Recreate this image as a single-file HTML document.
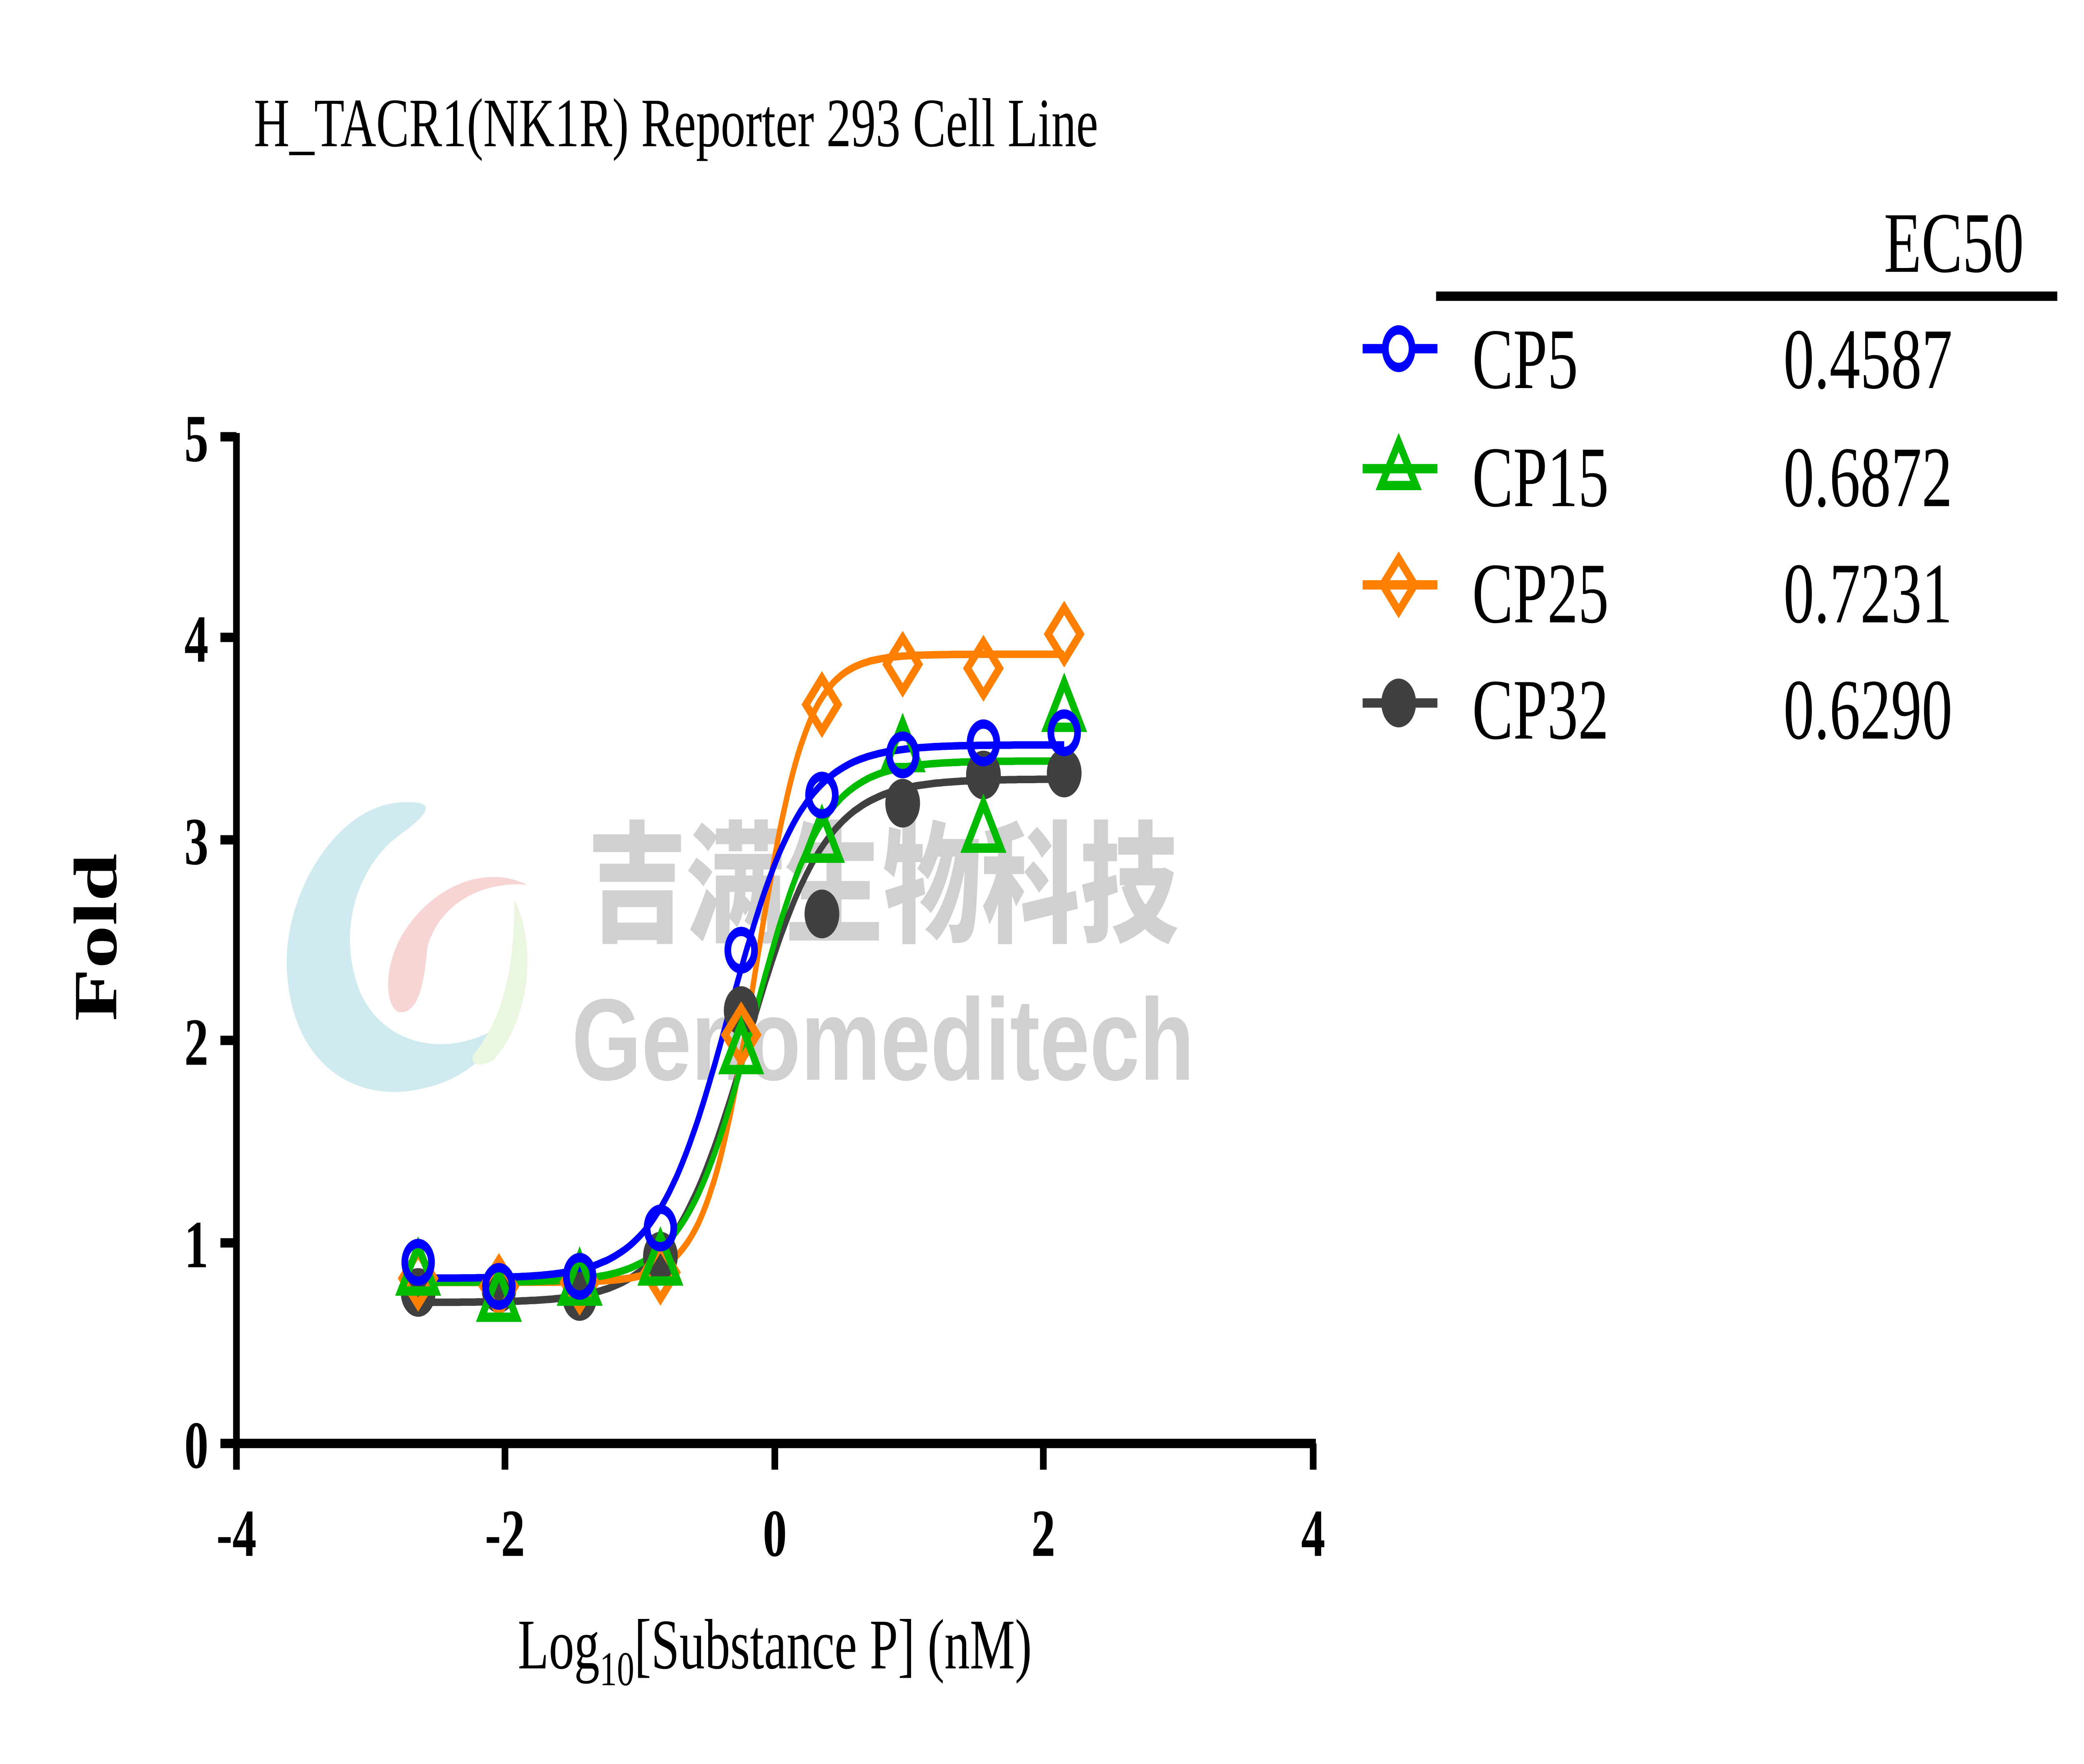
<!DOCTYPE html>
<html><head><meta charset="utf-8"><meta name="viewport" content="width=7014">
<style>
html,body{margin:0;padding:0;background:#fff;width:100%;height:100%;overflow:hidden;}
svg{display:block;position:fixed;left:0;top:0;width:100vw;height:100vh;}
text{font-family:"Liberation Serif","Noto Serif CJK SC",serif;}
</style></head><body>
<svg id="s" viewBox="0 0 1560 941" preserveAspectRatio="none" xmlns="http://www.w3.org/2000/svg">
<rect width="1560" height="941" fill="#fff"/>
<g opacity="0.55">
<path d="M300,428 C250,430 210,480 215,520 C220,570 270,590 320,580 C350,575 370,560 380,545 C340,565 290,560 270,530 C250,495 270,460 300,445 C325,432 325,427 300,428 Z" fill="#a9d8e6"/>
<path d="M395,472 C360,460 320,475 300,500 C285,520 290,540 300,540 C315,540 318,520 320,505 C330,480 365,470 395,472 Z" fill="#f3b3b3"/>
<path d="M385,480 C400,500 400,540 370,565 C360,570 350,568 355,562 C380,540 385,510 385,480 Z" fill="#d9efc7"/>
</g>
<g fill="#c8c8c8" opacity="0.85">
<text x="440" y="497" font-size="70" style="font-family:'Noto Sans CJK SC',sans-serif;font-weight:900" textLength="442" lengthAdjust="spacingAndGlyphs">吉满生物科技</text>
<text x="428" y="576" font-size="62" style="font-family:'Liberation Sans',sans-serif;font-weight:bold" textLength="466" lengthAdjust="spacingAndGlyphs">Genomeditech</text>
</g>
<text x="190" y="78" font-size="37">H_TACR1(NK1R) Reporter 293 Cell Line</text>
<g stroke="#000" stroke-width="5" fill="none">
<line x1="177" y1="231" x2="177" y2="772"/>
<line x1="175" y1="770" x2="985" y2="770"/>
<line x1="165" y1="233" x2="177" y2="233"/>
<line x1="165" y1="340" x2="177" y2="340"/>
<line x1="165" y1="448" x2="177" y2="448"/>
<line x1="165" y1="555" x2="177" y2="555"/>
<line x1="165" y1="663" x2="177" y2="663"/>
<line x1="165" y1="770" x2="177" y2="770"/>
<line x1="177" y1="770" x2="177" y2="784"/>
<line x1="378" y1="770" x2="378" y2="784"/>
<line x1="580" y1="770" x2="580" y2="784"/>
<line x1="781" y1="770" x2="781" y2="784"/>
<line x1="983" y1="770" x2="983" y2="784"/>
</g>
<g font-size="36" font-weight="bold" text-anchor="end">
<text x="156" y="246">5</text><text x="156" y="353">4</text><text x="156" y="461">3</text>
<text x="156" y="568">2</text><text x="156" y="676">1</text><text x="156" y="783">0</text>
</g>
<g font-size="36" font-weight="bold" text-anchor="middle">
<text x="177" y="830">-4</text><text x="378" y="830">-2</text><text x="580" y="830">0</text>
<text x="781" y="830">2</text><text x="983" y="830">4</text>
</g>
<text transform="translate(87,500) rotate(-90)" font-size="46" font-weight="bold" text-anchor="middle">Fold</text>
<text x="580" y="890" font-size="38" text-anchor="middle">Log<tspan font-size="26" dy="9">10</tspan><tspan dy="-9">[Substance P] (nM)</tspan></text>
<g id="curves"></g>
<g id="marks"></g>
<text x="1515" y="145" font-size="46" text-anchor="end">EC50</text>
<line x1="1075" y1="158" x2="1540" y2="158" stroke="#000" stroke-width="5"/>
<g font-size="46">
<text x="1102" y="207">CP5</text><text x="1335" y="207">0.4587</text>
<text x="1102" y="270">CP15</text><text x="1335" y="270">0.6872</text>
<text x="1102" y="332">CP25</text><text x="1335" y="332">0.7231</text>
<text x="1102" y="394">CP32</text><text x="1335" y="394">0.6290</text>
</g>
<g stroke-width="5">
<line x1="1020" y1="186" x2="1076" y2="186" stroke="#0000ff"/>
<circle cx="1047" cy="186" r="10" fill="#fff" stroke="#0000ff"/>
<line x1="1020" y1="250" x2="1076" y2="250" stroke="#00bb00"/>
<polygon points="1047,236 1060,259 1034,259" fill="none" stroke="#00bb00"/>
<line x1="1020" y1="312" x2="1076" y2="312" stroke="#ff8000"/>
<polygon points="1047,298 1059,312 1047,326 1035,312" fill="none" stroke="#ff8000"/>
<line x1="1020" y1="375" x2="1076" y2="375" stroke="#404040"/>
<circle cx="1047" cy="375" r="13" fill="#404040" stroke="none"/>
</g>
</svg>
<script>
(function(){
var NS="http://www.w3.org/2000/svg";
function X(v){return 580+v*100.75;}
function Y(v){return 770-v*107.4;}
var xs=[-2.65,-2.05,-1.45,-0.85,-0.25,0.35,0.95,1.55,2.15];
var S=[
 {c:"#404040",b:0.70,t:3.30,e:-0.201,h:1.5,d:[0.75,0.77,0.73,0.93,2.15,2.63,3.18,3.32,3.33],m:"dot"},
 {c:"#ff8000",b:0.80,t:3.92,e:-0.141,h:2.3,d:[0.82,0.78,0.8,0.85,2.03,3.67,3.87,3.85,4.02],m:"dia"},
 {c:"#00bb00",b:0.80,t:3.39,e:-0.163,h:1.7,d:[0.85,0.72,0.8,0.9,1.95,3.0,3.45,3.05,3.65],m:"tri"},
 {c:"#0000ff",b:0.82,t:3.47,e:-0.338,h:1.6,d:[0.9,0.78,0.83,1.07,2.45,3.22,3.42,3.48,3.53],m:"cir"}
];
var cg=document.getElementById("curves"),mg=document.getElementById("marks");
S.forEach(function(s){
 var p="";
 for(var x=-2.65;x<=2.16;x+=0.02){
  var y=s.b+(s.t-s.b)/(1+Math.pow(10,(s.e-x)*s.h));
  p+=(p?"L":"M")+X(x).toFixed(1)+","+Y(y).toFixed(1);
 }
 var e=document.createElementNS(NS,"path");
 e.setAttribute("d",p);e.setAttribute("fill","none");e.setAttribute("stroke",s.c);e.setAttribute("stroke-width","4");
 cg.appendChild(e);
});
S.forEach(function(s){
 s.d.forEach(function(v,i){
  var cx=X(xs[i]),cy=Y(v),e;
  if(s.m=="dot"){e=document.createElementNS(NS,"circle");e.setAttribute("cx",cx);e.setAttribute("cy",cy);e.setAttribute("r",13);e.setAttribute("fill",s.c);}
  else if(s.m=="cir"){e=document.createElementNS(NS,"circle");e.setAttribute("cx",cx);e.setAttribute("cy",cy);e.setAttribute("r",10);e.setAttribute("fill","none");e.setAttribute("stroke",s.c);e.setAttribute("stroke-width","5");}
  else if(s.m=="tri"){e=document.createElementNS(NS,"polygon");e.setAttribute("points",cx+","+(cy-14)+" "+(cx+13)+","+(cy+10)+" "+(cx-13)+","+(cy+10));e.setAttribute("fill","none");e.setAttribute("stroke",s.c);e.setAttribute("stroke-width","5");}
  else {e=document.createElementNS(NS,"polygon");e.setAttribute("points",cx+","+(cy-14)+" "+(cx+12)+","+cy+" "+cx+","+(cy+14)+" "+(cx-12)+","+cy);e.setAttribute("fill","none");e.setAttribute("stroke",s.c);e.setAttribute("stroke-width","5");}
  mg.appendChild(e);
 });
});
})();
</script>
</body></html>
